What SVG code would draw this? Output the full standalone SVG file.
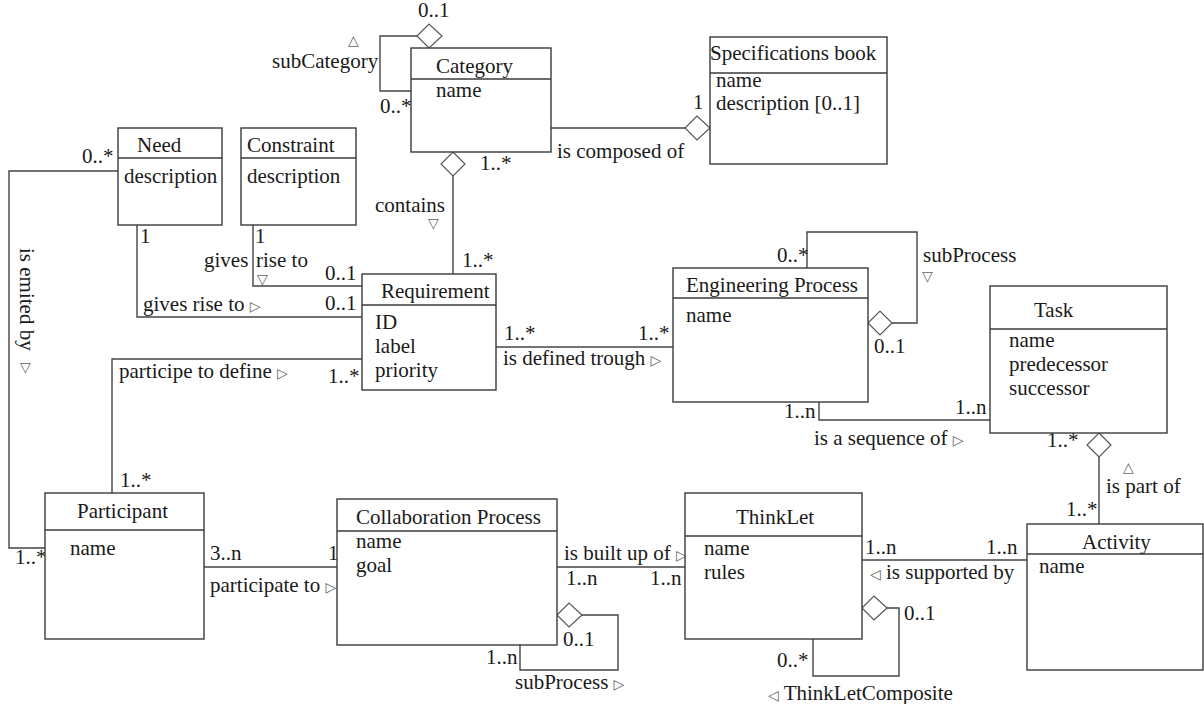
<svg xmlns="http://www.w3.org/2000/svg" width="1204" height="704" viewBox="0 0 1204 704">
<style>
.box{fill:#fff;stroke:#3a3a3a;stroke-width:1.4}
.sep{stroke:#3a3a3a;stroke-width:1.4}
.ln{fill:none;stroke:#444;stroke-width:1.4}
.dia{fill:#fff;stroke:#555;stroke-width:1.2}
text{font-family:"Liberation Serif","Times New Roman",serif;font-size:21px;fill:#1a1a1a}
.tri{font-family:"DejaVu Sans",sans-serif;font-size:14px;fill:#666}
</style>
<rect width="1204" height="704" fill="#fff"/>
<g id="connectors">
<polyline class="ln" points="417,36 380,36 380,91 411,91"/>
<polyline class="ln" points="453,176 453,274"/>
<polyline class="ln" points="551,128 685,128"/>
<polyline class="ln" points="118,171 9,171 9,548 45,548"/>
<polyline class="ln" points="137,225 137,317 362,317"/>
<polyline class="ln" points="253,225 253,286 362,286"/>
<polyline class="ln" points="496,347 673,347"/>
<polyline class="ln" points="362,359 112,359 112,493"/>
<polyline class="ln" points="892,323 917,323 917,232 807,232 807,268"/>
<polyline class="ln" points="819,402 819,420 990,420"/>
<polyline class="ln" points="1099,457 1099,524"/>
<polyline class="ln" points="204,567 337,567"/>
<polyline class="ln" points="557,567 685,567"/>
<polyline class="ln" points="582,615 618,615 618,670 520,670 520,645"/>
<polyline class="ln" points="862,560 1027,560"/>
<polyline class="ln" points="887,608 899,608 899,676 813,676 813,639"/>
<polygon class="dia" points="417,36 429,24 442,36 429,48"/>
<polygon class="dia" points="453,152 465,164 453,176 441,164"/>
<polygon class="dia" points="685,128 697,116 710,128 697,140"/>
<polygon class="dia" points="868,323 880,311 892,323 880,335"/>
<polygon class="dia" points="1099,433 1111,445 1099,457 1087,445"/>
<polygon class="dia" points="557,615 569,603 582,615 569,627"/>
<polygon class="dia" points="862,608 874,596 887,608 874,620"/>
<text x="418" y="17">0..1</text>
<text x="272" y="68">subCategory</text>
<text class="tri" x="348" y="45">△</text>
<text x="380" y="113">0..*</text>
<text x="480" y="170">1..*</text>
<text x="693" y="109">1</text>
<text x="557" y="158">is composed of</text>
<text x="375" y="212">contains</text>
<text class="tri" x="428" y="228">▽</text>
<text x="462" y="267">1..*</text>
<text x="82" y="163">0..*</text>
<text x="140" y="243">1</text>
<text x="255" y="243">1</text>
<text x="204" y="267">gives</text>
<text x="256" y="267">rise to</text>
<text class="tri" x="257" y="284">▽</text>
<text x="325" y="280">0..1</text>
<text x="143" y="311">gives rise to <tspan class="tri">▷</tspan></text>
<text x="325" y="310">0..1</text>
<text transform="translate(20,248) rotate(90)">is emited by</text>
<text class="tri" transform="translate(20,372)">▽</text>
<text x="119" y="378">participe to define <tspan class="tri">▷</tspan></text>
<text x="328" y="383">1..*</text>
<text x="120" y="487">1..*</text>
<text x="15" y="564">1..*</text>
<text x="504" y="340">1..*</text>
<text x="638" y="340">1..*</text>
<text x="503" y="365">is defined trough <tspan class="tri">▷</tspan></text>
<text x="777" y="262">0..*</text>
<text x="874" y="353">0..1</text>
<text x="923" y="262">subProcess</text>
<text class="tri" x="922" y="281">▽</text>
<text x="784" y="418">1..n</text>
<text x="955" y="414">1..n</text>
<text x="814" y="445">is a sequence of  <tspan class="tri">▷</tspan></text>
<text x="1047" y="447">1..*</text>
<text class="tri" x="1123" y="472">△</text>
<text x="1106" y="493">is part of</text>
<text x="1066" y="516">1..*</text>
<text x="210" y="560">3..n</text>
<text x="328" y="560">1</text>
<text x="210" y="592">participate to <tspan class="tri">▷</tspan></text>
<text x="564" y="560">is built up of <tspan class="tri">▷</tspan></text>
<text x="566" y="585">1..n</text>
<text x="650" y="585">1..n</text>
<text x="563" y="646">0..1</text>
<text x="486" y="664">1..n</text>
<text x="515" y="689">subProcess <tspan class="tri">▷</tspan></text>
<text x="865" y="554">1..n</text>
<text x="986" y="554">1..n</text>
<text x="870" y="579"><tspan class="tri">◁</tspan> is supported by</text>
<text x="904" y="620">0..1</text>
<text x="777" y="667">0..*</text>
<text x="768" y="700"><tspan class="tri">◁</tspan> ThinkLetComposite</text>
</g>
<g id="category">
<rect class="box" x="411" y="48" width="140" height="104"/>
<line class="sep" x1="411" y1="79" x2="551" y2="79"/>
<text x="436" y="73">Category</text>
<text x="436" y="97">name</text>
</g>
<g id="specifications-book">
<rect class="box" x="710" y="37" width="177" height="127"/>
<line class="sep" x1="710" y1="73" x2="887" y2="73"/>
<text x="710" y="60">Specifications book</text>
<text x="716" y="87">name</text>
<text x="716" y="110">description [0..1]</text>
</g>
<g id="need">
<rect class="box" x="118" y="128" width="104" height="97"/>
<line class="sep" x1="118" y1="158" x2="222" y2="158"/>
<text x="137" y="152">Need</text>
<text x="124" y="183">description</text>
</g>
<g id="constraint">
<rect class="box" x="241" y="128" width="115" height="97"/>
<line class="sep" x1="241" y1="158" x2="356" y2="158"/>
<text x="247" y="152">Constraint</text>
<text x="247" y="183">description</text>
</g>
<g id="requirement">
<rect class="box" x="362" y="274" width="134" height="116"/>
<line class="sep" x1="362" y1="305" x2="496" y2="305"/>
<text x="381" y="298">Requirement</text>
<text x="375" y="329">ID</text>
<text x="375" y="353">label</text>
<text x="375" y="377">priority</text>
</g>
<g id="engineering-process">
<rect class="box" x="673" y="268" width="195" height="134"/>
<line class="sep" x1="673" y1="298" x2="868" y2="298"/>
<text x="686" y="292">Engineering Process</text>
<text x="686" y="322">name</text>
</g>
<g id="task">
<rect class="box" x="990" y="286" width="177" height="147"/>
<line class="sep" x1="990" y1="329" x2="1167" y2="329"/>
<text x="1034" y="317">Task</text>
<text x="1009" y="347">name</text>
<text x="1009" y="371">predecessor</text>
<text x="1009" y="395">successor</text>
</g>
<g id="participant">
<rect class="box" x="45" y="493" width="159" height="146"/>
<line class="sep" x1="45" y1="530" x2="204" y2="530"/>
<text x="77" y="518">Participant</text>
<text x="70" y="555">name</text>
</g>
<g id="collaboration-process">
<rect class="box" x="337" y="499" width="220" height="146"/>
<line class="sep" x1="337" y1="531" x2="557" y2="531"/>
<text x="356" y="524">Collaboration Process</text>
<text x="356" y="548">name</text>
<text x="356" y="572">goal</text>
</g>
<g id="thinklet">
<rect class="box" x="685" y="493" width="177" height="146"/>
<line class="sep" x1="685" y1="536" x2="862" y2="536"/>
<text x="736" y="524">ThinkLet</text>
<text x="704" y="555">name</text>
<text x="704" y="579">rules</text>
</g>
<g id="activity">
<rect class="box" x="1027" y="524" width="176" height="146"/>
<line class="sep" x1="1027" y1="554" x2="1203" y2="554"/>
<text x="1082" y="549">Activity</text>
<text x="1039" y="573">name</text>
</g>
</svg>
